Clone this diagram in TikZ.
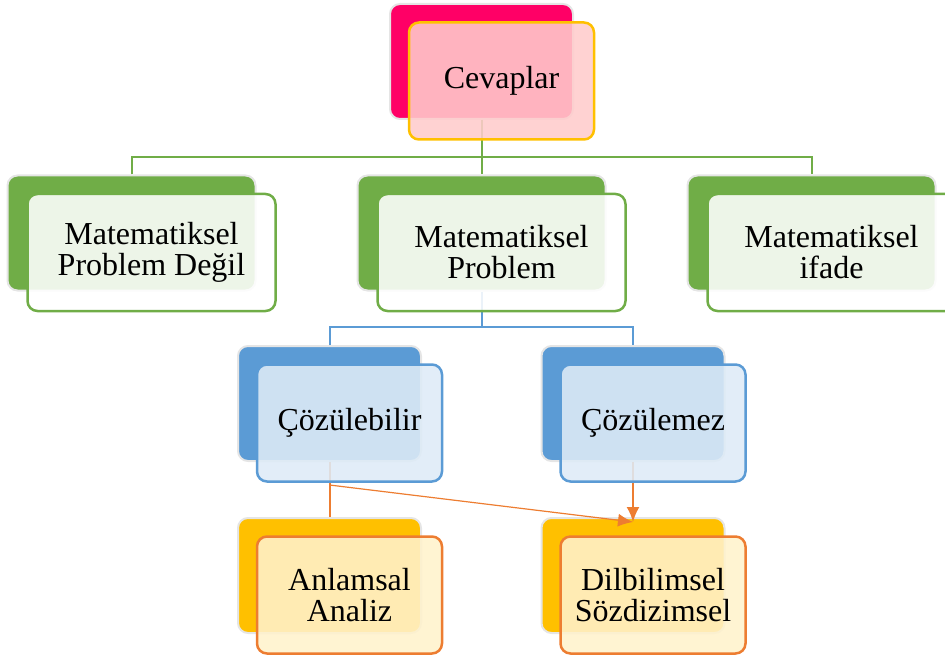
\documentclass[tikz,border=0pt]{standalone}
\usepackage{fontspec}
\setmainfont{Liberation Serif}
\usetikzlibrary{arrows.meta}

\definecolor{pinkback}{HTML}{FF0066}
\definecolor{pinkfront}{HTML}{FFCCCC}
\definecolor{goldline}{HTML}{FFC000}
\definecolor{greenback}{HTML}{70AD47}
\definecolor{blueback}{HTML}{5B9BD5}
\definecolor{bluefront}{HTML}{DEEBF7}
\definecolor{yellowback}{HTML}{FFC000}
\definecolor{yellowfront}{HTML}{FFF2CC}
\definecolor{orangeline}{HTML}{ED7D31}

\begin{document}
\begin{tikzpicture}[x=1pt, y=-1pt,
	backbox/.style={draw=black!10, line width=2pt, rounded corners=10pt,
		minimum width=183pt, minimum height=115pt},
	frontbox/.style={line width=2.5pt, rounded corners=10pt,
		minimum width=185pt, minimum height=117pt, align=center,
		font=\fontsize{32}{31}\selectfont, fill opacity=0.88, text opacity=1},
	wide/.style={minimum width=248pt},
	link/.style={line width=2pt}]
	\def \dx {20}
	\def \dy {19.5}

	\useasboundingbox (0,0) rectangle (945,655);

	% back boxes
	\node[backbox, fill=pinkback] (cev-b) at (481.5,61.5) {};
	\node[backbox, wide, fill=greenback] (deg-b)   at (131.5,233) {};
	\node[backbox, wide, fill=greenback] (prob-b)  at (481.5,233) {};
	\node[backbox, wide, fill=greenback] (ifade-b) at (811.5,233) {};
	\node[backbox, fill=blueback] (coz-b)  at (329.5,403.5) {};
	\node[backbox, fill=blueback] (cozm-b) at (633,403.5) {};
	\node[backbox, fill=yellowback] (anl-b) at (329.5,575.5) {};
	\node[backbox, fill=yellowback] (dil-b) at (633,575.5) {};

	% connectors
	\coordinate (greenbus) at (481.5,157);
	\coordinate (bluebus)  at (481.5,327);
	\coordinate (split)    at (329.5,485);

	\draw[link, greenback] (cev-b.south) -- (prob-b.north);
	\draw[link, greenback] (deg-b.north) |- (greenbus) -| (ifade-b.north);
	\draw[link, blueback] (prob-b.south) -- (bluebus);
	\draw[link, blueback] (coz-b.north) |- (bluebus) -| (cozm-b.north);
	\draw[link, orangeline] (coz-b.south) -- (anl-b.north);
	\draw[link, orangeline, ->, >={Latex[length=15pt, width=13pt]}]
		(cozm-b.south) -- ([yshift=-5pt]dil-b.north);
	\draw[line width=1.2pt, orangeline, ->, >={Latex[length=15pt, width=13pt]}]
		(split) -- ([yshift=-5pt]dil-b.north);

	% front boxes
	\node[frontbox, draw=goldline, fill=pinkfront]
		(cev-f) at ([shift={(\dx,\dy)}]cev-b.center) {Cevaplar};
	\node[frontbox, wide, draw=greenback, fill=white]
		(deg-f) at ([shift={(\dx,\dy)}]deg-b.center) {Matematiksel\\Problem Değil};
	\node[frontbox, wide, draw=greenback, fill=white]
		(prob-f) at ([shift={(\dx,\dy)}]prob-b.center) {Matematiksel\\Problem};
	\node[frontbox, wide, draw=greenback, fill=white]
		(ifade-f) at ([shift={(\dx,\dy)}]ifade-b.center) {Matematiksel\\ifade};
	\node[frontbox, draw=blueback, fill=bluefront]
		(coz-f) at ([shift={(\dx,\dy)}]coz-b.center) {Çözülebilir};
	\node[frontbox, draw=blueback, fill=bluefront]
		(cozm-f) at ([shift={(\dx,\dy)}]cozm-b.center) {Çözülemez};
	\node[frontbox, draw=orangeline, fill=yellowfront]
		(anl-f) at ([shift={(\dx,\dy)}]anl-b.center) {Anlamsal\\Analiz};
	\node[frontbox, draw=orangeline, fill=yellowfront]
		(dil-f) at ([shift={(\dx,\dy)}]dil-b.center) {Dilbilimsel\\Sözdizimsel};
\end{tikzpicture}
\end{document}
